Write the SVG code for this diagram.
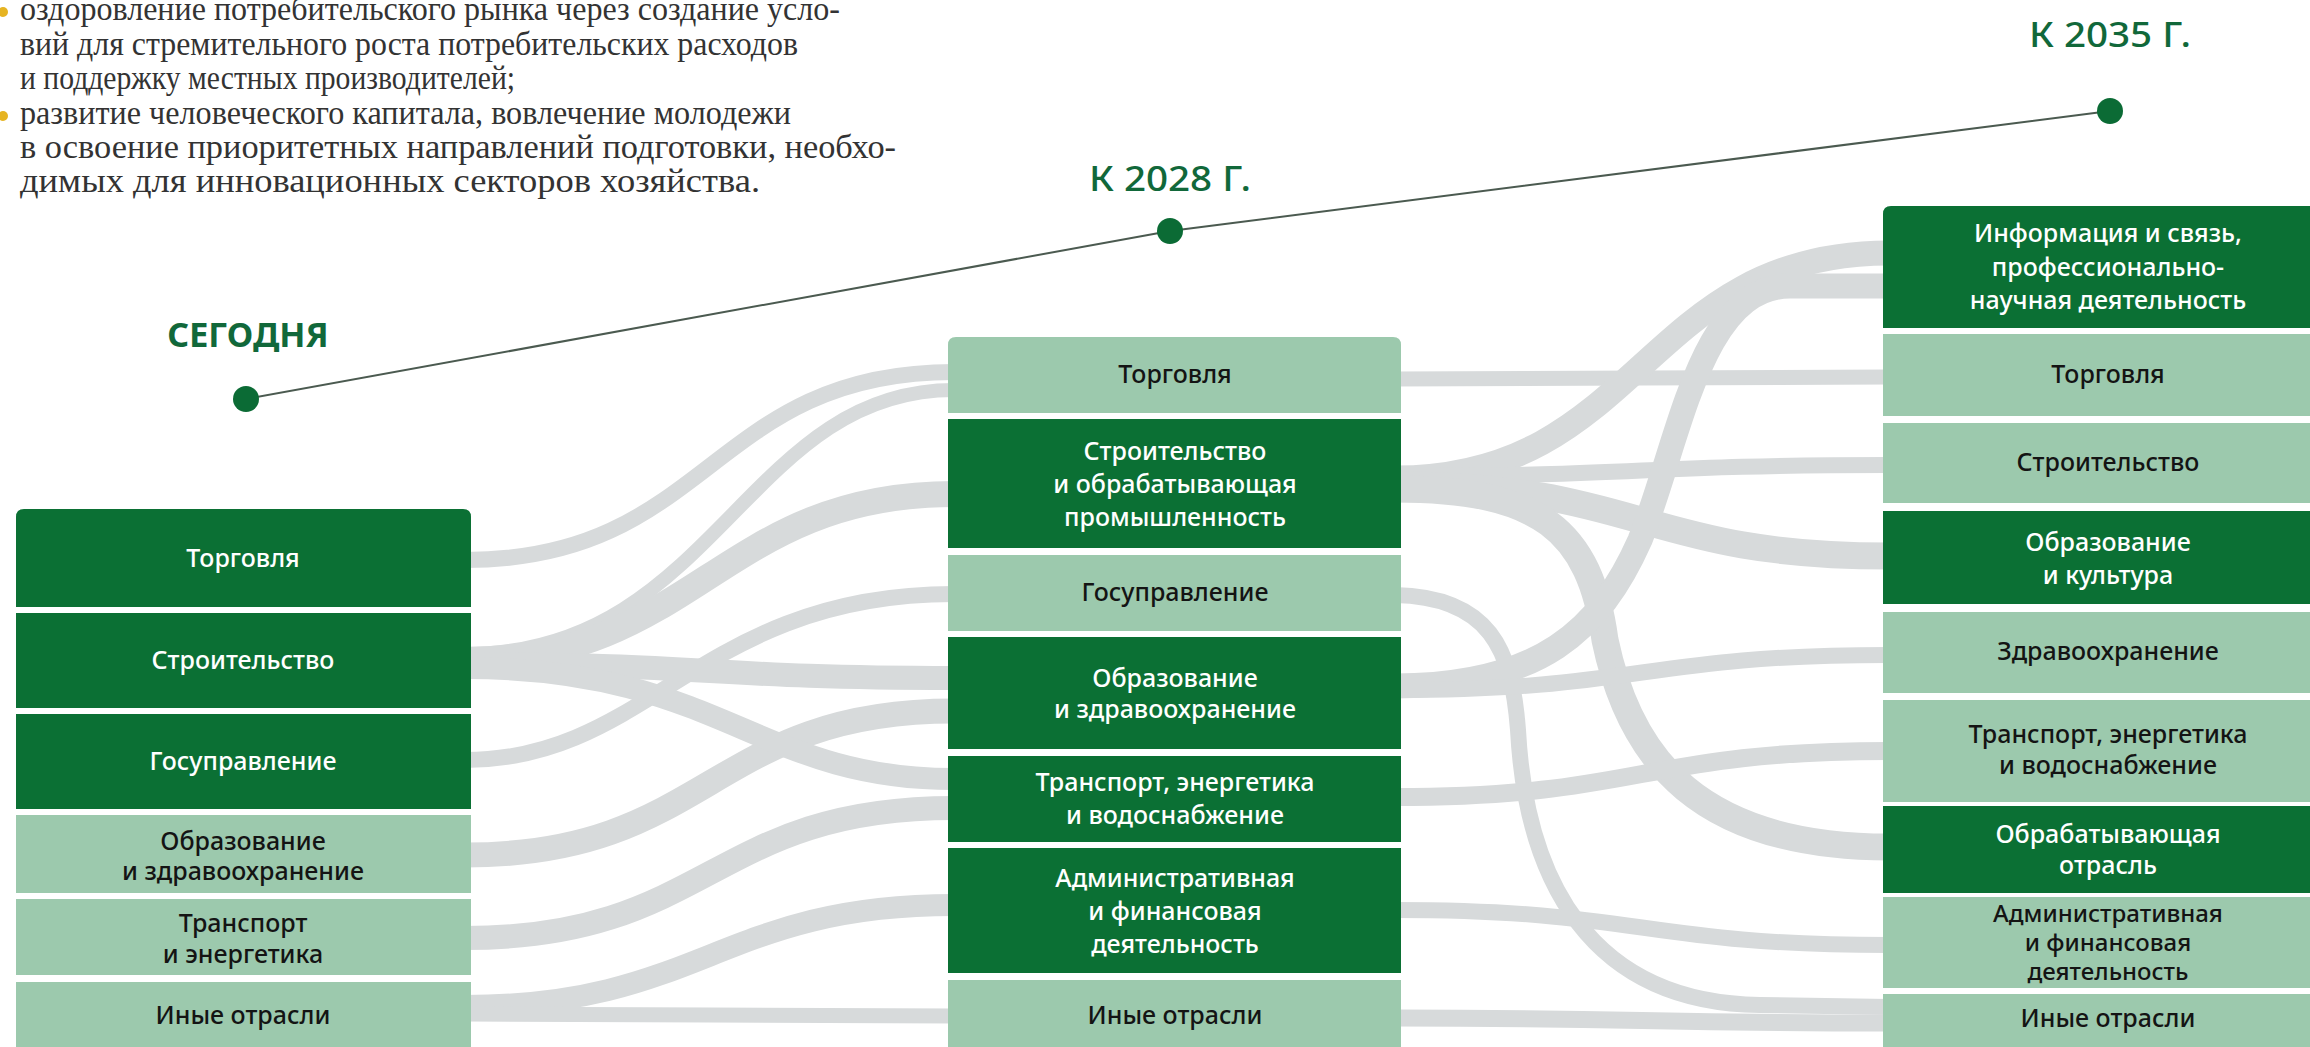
<svg xmlns="http://www.w3.org/2000/svg" width="2310" height="1047" viewBox="0 0 2310 1047">
<style>
.dk{fill:#0b7034}
.lt{fill:#9cc9ad}
.rib{fill:none;stroke:#d7dadb}
.lbl{font-family:"Noto Sans","DejaVu Sans",sans-serif;font-size:25px;font-weight:500;text-anchor:middle}
.sm{font-size:24px}
.w{fill:#ffffff}
.b{fill:#141414}
.ttl{font-family:"Noto Sans","DejaVu Sans",sans-serif;font-size:34px;fill:#11683a;text-anchor:middle}
.body{font-family:"Liberation Serif","Times New Roman",serif;font-size:33px;fill:#333333}
.dot{fill:#0b6b35}
.bul{fill:#e6b422}
</style>
<rect width="2310" height="1047" fill="#ffffff"/>

<g id="intro">
<circle class="bul" cx="3" cy="12" r="5"/>
<circle class="bul" cx="3" cy="116" r="5"/>
<text class="body" x="20" y="20" textLength="820" lengthAdjust="spacingAndGlyphs">оздоровление потребительского рынка через создание усло-</text>
<text class="body" x="20" y="55" textLength="778" lengthAdjust="spacingAndGlyphs">вий для стремительного роста потребительских расходов</text>
<text class="body" x="20" y="89" textLength="495" lengthAdjust="spacingAndGlyphs">и поддержку местных производителей;</text>
<text class="body" x="20" y="124" textLength="771" lengthAdjust="spacingAndGlyphs">развитие человеческого капитала, вовлечение молодежи</text>
<text class="body" x="20" y="158" textLength="876" lengthAdjust="spacingAndGlyphs">в освоение приоритетных направлений подготовки, необхо-</text>
<text class="body" x="20" y="192" textLength="740" lengthAdjust="spacingAndGlyphs">димых для инновационных секторов хозяйства.</text>
</g>

<g id="timeline">
<path d="M246,399 L1170,231 L2110,111" fill="none" stroke="#4b5a50" stroke-width="2"/>
<circle class="dot" cx="246" cy="399" r="13"/>
<circle class="dot" cx="1170" cy="231" r="13"/>
<circle class="dot" cx="2110" cy="111" r="13"/>
<text class="ttl" x="248" y="347" font-weight="700">СЕГОДНЯ</text>
<text class="ttl" x="1170" y="191" font-weight="500" font-size="35" textLength="162" lengthAdjust="spacingAndGlyphs">К 2028 Г.</text>
<text class="ttl" x="2110" y="47" font-weight="500" font-size="35" textLength="162" lengthAdjust="spacingAndGlyphs">К 2035 Г.</text>
</g>

<g id="connectors">
<!-- left to middle -->
<path class="rib" stroke-width="16" d="M465,560 C710,560 710,372 954,372"/>
<path class="rib" stroke-width="14" d="M465,654 C715,654 745,390 954,390"/>
<path class="rib" stroke-width="26" d="M465,660 C695,660 720,494 954,494"/>
<path class="rib" stroke-width="16" d="M465,760 C650,760 700,594 954,594"/>
<path class="rib" stroke-width="24" d="M465,664 C710,664 710,678 954,678"/>
<path class="rib" stroke-width="25" d="M465,855 C710,855 710,711 954,711"/>
<path class="rib" stroke-width="22" d="M465,668 C720,668 755,779 954,779"/>
<path class="rib" stroke-width="24" d="M465,938 C710,938 710,808 954,808"/>
<path class="rib" stroke-width="22" d="M465,1006 C700,1006 720,905 954,905"/>
<path class="rib" stroke-width="15" d="M465,1014 C710,1014 710,1016 954,1016"/>
<!-- middle to right -->
<path class="rib" stroke-width="15" d="M1395,379 C1642,379 1642,377 1889,377"/>
<path class="rib" stroke-width="25" d="M1395,478 C1642,478 1642,253 1889,253"/>
<path class="rib" stroke-width="16" d="M1395,476 C1642,476 1642,465 1889,465"/>
<path class="rib" stroke-width="27" d="M1395,485 C1642,485 1642,556 1889,556"/>
<path class="rib" stroke-width="27" d="M1395,489 C1540,489 1590,530 1605,640 C1630,760 1700,847 1889,847"/>
<path class="rib" stroke-width="16" d="M1395,595 C1490,597 1512,650 1518,730 C1526,880 1590,1003 1760,1005 L1889,1007"/>
<path class="rib" stroke-width="25" d="M1395,686 C1540,686 1600,630 1640,540 C1680,440 1700,286 1790,286 L1889,286"/>
<path class="rib" stroke-width="16" d="M1395,690 C1642,690 1642,655 1889,655"/>
<path class="rib" stroke-width="18" d="M1395,797 C1642,797 1642,751 1889,751"/>
<path class="rib" stroke-width="16" d="M1395,910 C1642,910 1642,945 1889,945"/>
<path class="rib" stroke-width="17" d="M1395,1018 C1642,1018 1642,1023 1889,1023"/>
</g>

<!-- left column -->
<g id="L-torg"><path class="dk" d="M16,517 Q16,509 24,509 L463,509 Q471,509 471,517 L471,607 L16,607 Z"/><text class="lbl w" x="243" y="567">Торговля</text></g>
<g id="L-stroi"><rect class="dk" x="16" y="613" width="455" height="95"/><text class="lbl w" x="243" y="669">Строительство</text></g>
<g id="L-gos"><rect class="dk" x="16" y="714" width="455" height="95"/><text class="lbl w" x="243" y="770">Госуправление</text></g>
<g id="L-obr"><rect class="lt" x="16" y="815" width="455" height="78"/><text class="lbl b" x="243" y="850">Образование</text><text class="lbl b" x="243" y="880">и здравоохранение</text></g>
<g id="L-trans"><rect class="lt" x="16" y="899" width="455" height="76"/><text class="lbl b" x="243" y="932">Транспорт</text><text class="lbl b" x="243" y="963">и энергетика</text></g>
<g id="L-inye"><rect class="lt" x="16" y="982" width="455" height="75"/><text class="lbl b" x="243" y="1024">Иные отрасли</text></g>

<!-- middle column -->
<g id="M-torg"><path class="lt" d="M948,345 Q948,337 956,337 L1393,337 Q1401,337 1401,345 L1401,413 L948,413 Z"/><text class="lbl b" x="1175" y="383">Торговля</text></g>
<g id="M-stroi"><rect class="dk" x="948" y="419" width="453" height="129"/><text class="lbl w" x="1175" y="460">Строительство</text><text class="lbl w" x="1175" y="493">и обрабатывающая</text><text class="lbl w" x="1175" y="526">промышленность</text></g>
<g id="M-gos"><rect class="lt" x="948" y="555" width="453" height="76"/><text class="lbl b" x="1175" y="601">Госуправление</text></g>
<g id="M-obr"><rect class="dk" x="948" y="637" width="453" height="112"/><text class="lbl w" x="1175" y="687">Образование</text><text class="lbl w" x="1175" y="718">и здравоохранение</text></g>
<g id="M-trans"><rect class="dk" x="948" y="756" width="453" height="86"/><text class="lbl w" x="1175" y="791">Транспорт, энергетика</text><text class="lbl w" x="1175" y="824">и водоснабжение</text></g>
<g id="M-adm"><rect class="dk" x="948" y="848" width="453" height="125"/><text class="lbl w" x="1175" y="887">Административная</text><text class="lbl w" x="1175" y="920">и финансовая</text><text class="lbl w" x="1175" y="953">деятельность</text></g>
<g id="M-inye"><rect class="lt" x="948" y="980" width="453" height="77"/><text class="lbl b" x="1175" y="1024">Иные отрасли</text></g>

<!-- right column -->
<g id="R-info"><path class="dk" d="M1883,214 Q1883,206 1891,206 L2320,206 L2320,328 L1883,328 Z"/><text class="lbl w" x="2108" y="242">Информация и связь,</text><text class="lbl w" x="2108" y="276">профессионально-</text><text class="lbl w" x="2108" y="309">научная деятельность</text></g>
<g id="R-torg"><rect class="lt" x="1883" y="334" width="437" height="82"/><text class="lbl b" x="2108" y="383">Торговля</text></g>
<g id="R-stroi"><rect class="lt" x="1883" y="423" width="437" height="80"/><text class="lbl b" x="2108" y="471">Строительство</text></g>
<g id="R-obr"><rect class="dk" x="1883" y="511" width="437" height="93"/><text class="lbl w" x="2108" y="551">Образование</text><text class="lbl w" x="2108" y="584">и культура</text></g>
<g id="R-zdrav"><rect class="lt" x="1883" y="612" width="437" height="81"/><text class="lbl b" x="2108" y="660">Здравоохранение</text></g>
<g id="R-trans"><rect class="lt" x="1883" y="700" width="437" height="102"/><text class="lbl b" x="2108" y="743">Транспорт, энергетика</text><text class="lbl b" x="2108" y="774">и водоснабжение</text></g>
<g id="R-obrab"><rect class="dk" x="1883" y="806" width="437" height="87"/><text class="lbl w" x="2108" y="843">Обрабатывающая</text><text class="lbl w" x="2108" y="874">отрасль</text></g>
<g id="R-adm"><rect class="lt" x="1883" y="897" width="437" height="91"/><text class="lbl b sm" x="2108" y="922">Административная</text><text class="lbl b sm" x="2108" y="951">и финансовая</text><text class="lbl b sm" x="2108" y="980">деятельность</text></g>
<g id="R-inye"><rect class="lt" x="1883" y="994" width="437" height="63"/><text class="lbl b" x="2108" y="1027">Иные отрасли</text></g>
</svg>
